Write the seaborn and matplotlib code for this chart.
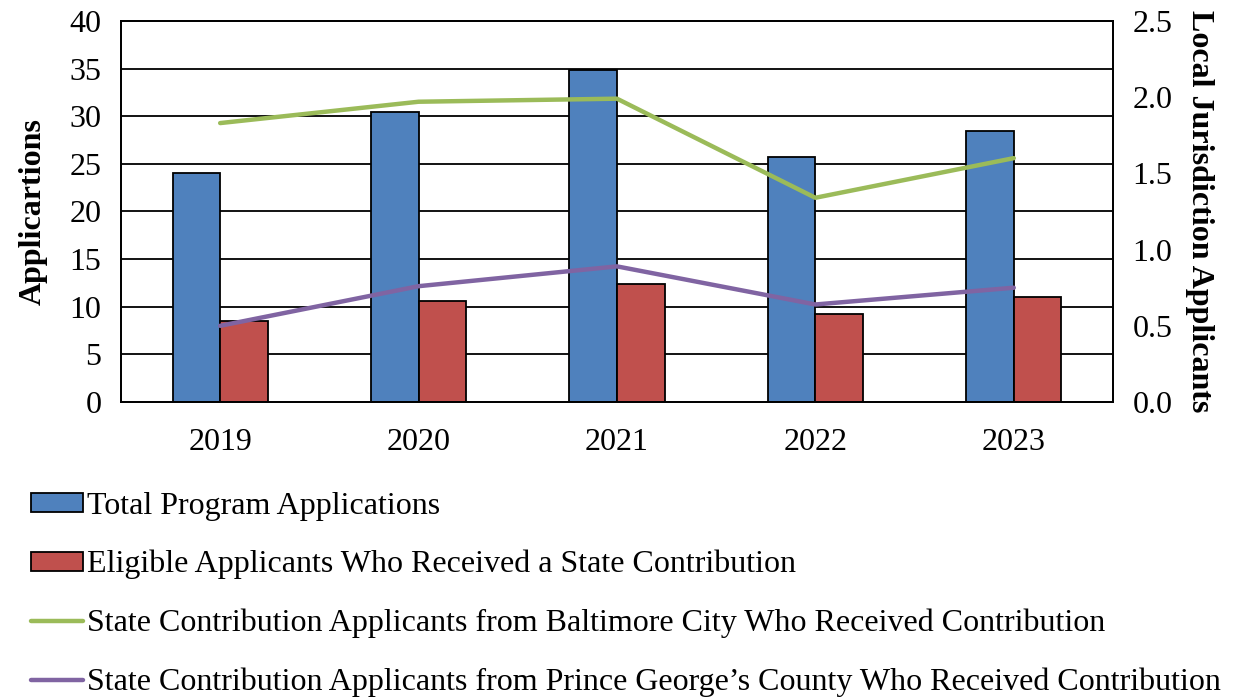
import pandas as pd
import numpy as np
import matplotlib
matplotlib.use("Agg")
import matplotlib.pyplot as plt
import seaborn as sns
from matplotlib.patches import Patch
from matplotlib.lines import Line2D

years = ["2019", "2020", "2021", "2022", "2023"]
total_apps = [24.0, 30.4, 34.8, 25.7, 28.5]
eligible_apps = [8.5, 10.6, 12.4, 9.2, 11.0]
baltimore = [1.83, 1.97, 1.99, 1.34, 1.60]
prince_georges = [0.50, 0.76, 0.89, 0.64, 0.75]

bar_labels = ["Total Program Applications",
              "Eligible Applicants Who Received a State Contribution"]
line_labels = ["State Contribution Applicants from Baltimore City Who Received Contribution",
               "State Contribution Applicants from Prince George\u2019s County Who Received Contribution"]

bar_colors = ["#4F81BD", "#C0504D"]
line_colors = ["#9BBB59", "#8064A2"]

sns.set_theme(style="white")
plt.rcParams['font.family'] = ['Liberation Serif', 'DejaVu Serif']
plt.rcParams['font.size'] = 23
for k in ['text.color', 'axes.labelcolor', 'xtick.color', 'ytick.color']:
    plt.rcParams[k] = 'black'

df_bars = pd.DataFrame({
    'year': years * 2,
    'value': total_apps + eligible_apps,
    'series': [bar_labels[0]] * len(years) + [bar_labels[1]] * len(years),
})
df_lines = pd.DataFrame({
    'pos': list(range(len(years))) * 2,
    'value': baltimore + prince_georges,
    'series': [line_labels[0]] * len(years) + [line_labels[1]] * len(years),
})

fig = plt.figure(figsize=(12.38, 6.98), dpi=100)
ax = fig.add_axes([0.0977, 0.424, 0.8013, 0.546])

# horizontal grid lines under the bars
for v in np.arange(5, 40, 5):
    ax.axhline(v, color='black', lw=1.3, zorder=0)

sns.barplot(data=df_bars, x='year', y='value', hue='series', order=years,
            hue_order=bar_labels, palette=bar_colors, width=0.48,
            edgecolor='black', linewidth=1.3, saturation=1, ax=ax, legend=False,
            zorder=2)

ax.set_ylim(0, 40)
ax.set_yticks(np.arange(0, 41, 5))
ax.set_xlim(-0.5, 4.5)
ax.set_xlabel("")
ax.set_ylabel("Applicartions", fontweight='bold', fontsize=23, labelpad=16)
ax.tick_params(axis='y', length=0, pad=14, labelsize=23)
ax.tick_params(axis='x', length=0, pad=19, labelsize=23)
for s in ax.spines.values():
    s.set_color('black')
    s.set_linewidth(1.3)

ax2 = ax.twinx()
sns.lineplot(data=df_lines, x='pos', y='value', hue='series',
             hue_order=line_labels, palette=line_colors, linewidth=3.2,
             ax=ax2, legend=False, zorder=3)
ax2.set_ylim(0, 2.5)
ax2.set_yticks(np.arange(0, 2.51, 0.5))
ax2.set_yticklabels([f"{v:.1f}" for v in np.arange(0, 2.51, 0.5)])
ax2.set_xlim(-0.5, 4.5)
ax2.set_xlabel("")
ax2.set_ylabel("Local Jurisdiction Applicants", fontweight='bold', fontsize=23,
               rotation=270, va='bottom', labelpad=9)
ax2.tick_params(axis='y', length=0, pad=14, labelsize=23)
for s in ax2.spines.values():
    s.set_color('black')
    s.set_linewidth(1.3)

handles = [Patch(facecolor=bar_colors[0], edgecolor='black', linewidth=1.3),
           Patch(facecolor=bar_colors[1], edgecolor='black', linewidth=1.3),
           Line2D([0], [0], color=line_colors[0], lw=3.2, solid_capstyle='round'),
           Line2D([0], [0], color=line_colors[1], lw=3.2, solid_capstyle='round')]
fig.legend(handles, bar_labels + line_labels, loc='upper left',
           bbox_to_anchor=(0.0145, 0.314), frameon=False, fontsize=23,
           handlelength=1.65, handleheight=0.55, handletextpad=0.12,
           labelspacing=0.92, borderaxespad=0)

fig.savefig("out.png", dpi=100)
